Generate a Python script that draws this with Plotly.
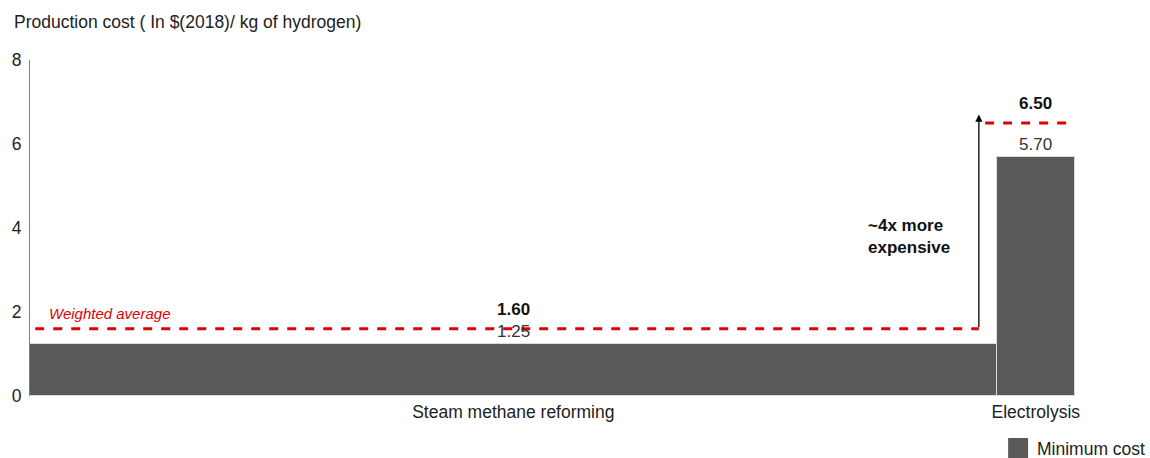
import plotly.graph_objects as go

# Production routes, their share of output (bar width) and minimum cost
routes = ["Steam methane reforming", "Electrolysis"]
shares = [92.5, 7.5]
min_cost = [1.25, 5.70]
avg_cost = [1.60, 6.50]
cost_labels = ["1.25", "5.70"]
avg_labels = ["1.60", "6.50"]
y_ticks = [0, 2, 4, 6, 8]

FONT = "Liberation Sans, Arial, sans-serif"
BAR = "#595959"
RED = "#e00000"

# Bar positions from cumulative shares
lefts = [sum(shares[:i]) for i in range(len(shares))]
centers = [l + w / 2 for l, w in zip(lefts, shares)]
total = sum(shares)

fig = go.Figure()
fig.add_trace(go.Bar(
    x=centers, y=min_cost, width=shares,
    marker=dict(color=BAR, line=dict(color="#dcdcdc", width=1)),
    showlegend=False, hoverinfo="skip",
))

W, H = 1150, 458
ml, mr, mt, mb = 28, 75, 60, 62
pw, ph = W - ml - mr, H - mt - mb


def px_x(p):
    return (p - ml) / pw


def px_y(p):
    return 1 - (p - mt) / ph


arrow_x = 90.8

# Weighted average line across steam methane reforming
fig.add_shape(type="line", xref="x", yref="y", x0=0.5, x1=arrow_x,
              y0=avg_cost[0], y1=avg_cost[0],
              line=dict(color=RED, width=3, dash="dash"))
# Average line above electrolysis
fig.add_shape(type="line", xref="x", yref="y", x0=91.4, x1=100.2,
              y0=avg_cost[1], y1=avg_cost[1],
              line=dict(color=RED, width=3, dash="dash"))

annotations = []
# Arrow from the weighted average up to the electrolysis average
annotations.append(dict(
    x=arrow_x, y=avg_cost[1] + 0.2, ax=arrow_x, ay=avg_cost[0],
    xref="x", yref="y", axref="x", ayref="y", text="",
    showarrow=True, arrowhead=2, arrowsize=1.1, arrowwidth=1.3, arrowcolor="#000000",
))
annotations.append(dict(
    x=px_x(866), y=px_y(236), xref="paper", yref="paper",
    text="~4x more<br>expensive", showarrow=False, xanchor="left", yanchor="middle",
    align="left", font=dict(family=FONT, size=17, color="#111111", weight="bold"),
))
# Value labels
for c, v, t in zip(centers, min_cost, cost_labels):
    annotations.append(dict(
        x=c, y=v, xref="x", yref="y", text=t, showarrow=False,
        yanchor="bottom", yshift=1, font=dict(family=FONT, size=17, color="#333333"),
    ))
avg_x = [centers[0], 96.2]
for c, v, t in zip(avg_x, avg_cost, avg_labels):
    annotations.append(dict(
        x=c, y=v, xref="x", yref="y", text=t, showarrow=False,
        yanchor="bottom", yshift=8, font=dict(family=FONT, size=17, color="#111111", weight="bold"),
    ))
annotations.append(dict(
    x=px_x(45), y=avg_cost[0], xref="paper", yref="y", text="<i>Weighted average</i>",
    showarrow=False, xanchor="left", yanchor="bottom", yshift=5,
    font=dict(family=FONT, size=15, color=RED),
))
# Axis title
annotations.append(dict(
    x=px_x(10), y=px_y(22), xref="paper", yref="paper",
    text="Production cost ( In $(2018)/ kg of hydrogen)", showarrow=False,
    xanchor="left", yanchor="middle", font=dict(family=FONT, size=17.5, color="#222222"),
))
# Legend
fig.add_shape(type="rect", xref="paper", yref="paper",
              x0=px_x(1008), x1=px_x(1028), y0=px_y(458), y1=px_y(438),
              fillcolor=BAR, line=dict(width=0))
annotations.append(dict(
    x=px_x(1035), y=px_y(449), xref="paper", yref="paper", text="Minimum cost",
    showarrow=False, xanchor="left", yanchor="middle",
    font=dict(family=FONT, size=17.5, color="#222222"),
))

fig.update_layout(
    width=W, height=H, margin=dict(l=ml, r=mr, t=mt, b=mb),
    paper_bgcolor="white", plot_bgcolor="white", bargap=0,
    annotations=annotations,
    font=dict(family=FONT, size=17, color="#222222"),
    xaxis=dict(range=[0, total], showgrid=False, zeroline=False, showline=False,
               tickvals=centers, ticktext=routes, ticks="", tickfont=dict(size=17.5),
               ticklabelstandoff=3),
    yaxis=dict(range=[0, 8], tickvals=y_ticks, showgrid=False, zeroline=False,
               showline=True, linecolor="#7f7f7f", linewidth=1, ticks="",
               tickfont=dict(size=17.5), ticklabelstandoff=4),
)

fig.write_html("out.html")
